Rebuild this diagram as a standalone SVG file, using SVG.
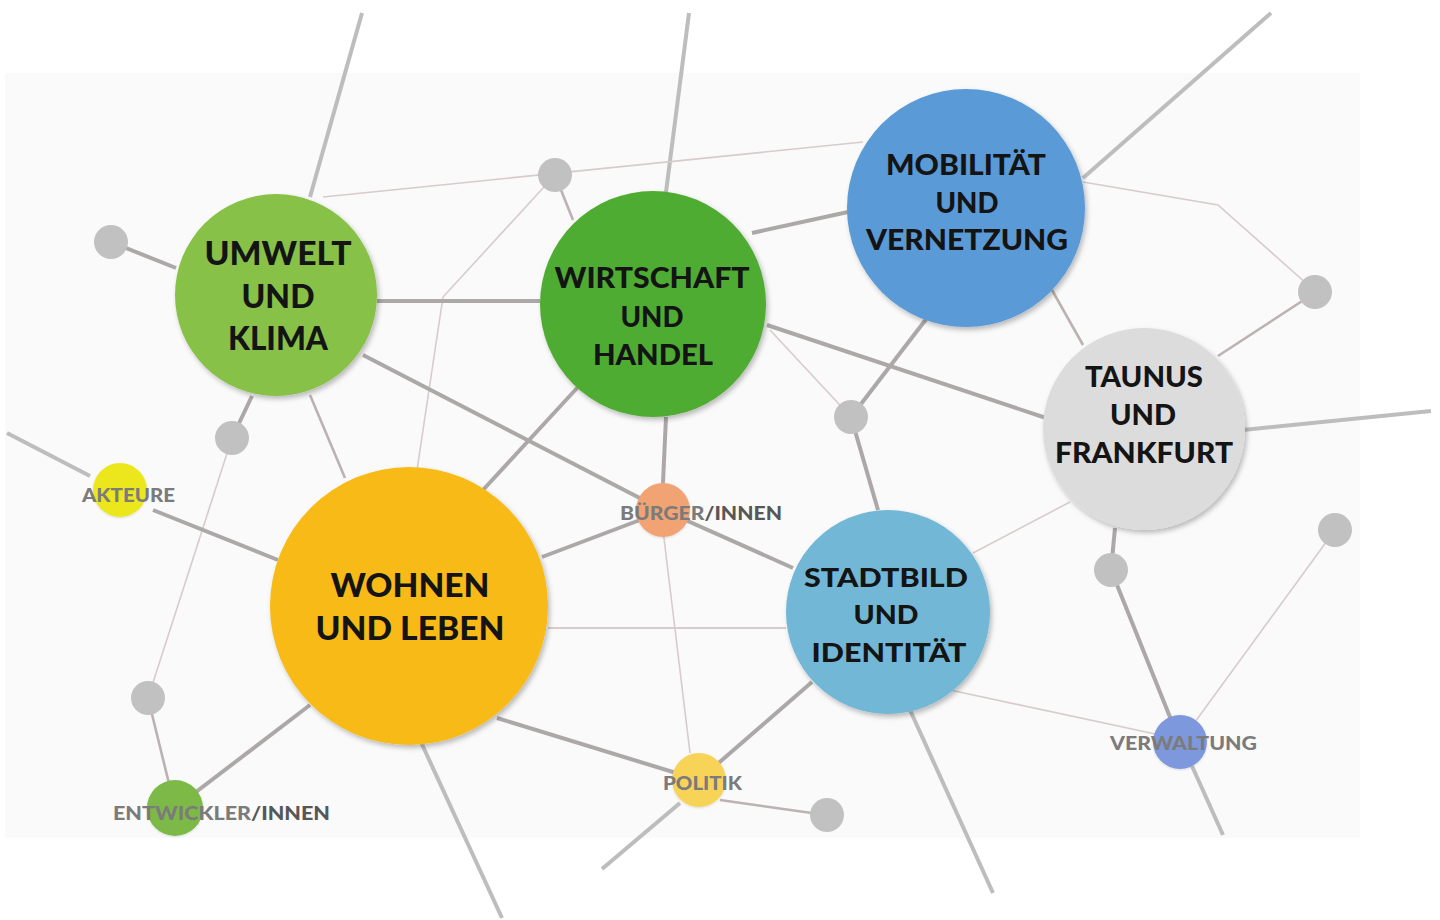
<svg xmlns="http://www.w3.org/2000/svg" width="1440" height="920" viewBox="0 0 1440 920">
<defs>
<filter id="sh" x="-20%" y="-20%" width="140%" height="140%">
<feDropShadow dx="2" dy="3" stdDeviation="2.5" flood-color="#000" flood-opacity="0.26"/>
</filter>
<filter id="shs" x="-30%" y="-30%" width="160%" height="160%">
<feDropShadow dx="0" dy="1" stdDeviation="1" flood-color="#000" flood-opacity="0.12"/>
</filter>
</defs>
<style>
.ext{stroke:#bdbdbd;stroke-width:4;fill:none;stroke-linecap:butt}
.thick{stroke:#aca8a8;stroke-width:4;fill:none}
.med{stroke:#bcb2b2;stroke-width:2.6;fill:none}
.thin{stroke:#d8cbcb;stroke-width:1.6;fill:none}
.dot{fill:#c2c1c1}
.big{font-family:Lato,"Liberation Sans",sans-serif;font-weight:900;fill:#141414;text-anchor:middle}
.sm{font-family:Lato,"Liberation Sans",sans-serif;font-weight:900;font-size:19px;fill:#7b7b7b}
.dk{fill:#575757}
</style>
<rect x="0" y="0" width="1440" height="920" fill="#ffffff"/>
<rect x="5" y="73" width="1355" height="765" fill="#fafafa"/>

<g id="connectors">
<path class="ext" d="M362,13 L310,197"/>
<path class="ext" d="M689,13 L666,192"/>
<path class="ext" d="M1271,13 L1083,178"/>
<path class="ext" d="M1243,430 L1431,411"/>
<path class="ext" d="M7,433 L90,476"/>
<path class="ext" d="M420,740 L502,918"/>
<path class="ext" d="M680,803 L602,869"/>
<path class="ext" d="M910,710 L993,893"/>
<path class="ext" d="M1192,766 L1223,835"/>

<path class="thin" d="M323,197 L863,142"/>
<path class="thin" d="M555,175 L443,297 L417,470"/>
<path class="thin" d="M232,438 L148,698"/>
<path class="thin" d="M770,330 L851,417"/>
<path class="thin" d="M1083,182 L1218,205 L1316,292"/>
<path class="thin" d="M663,530 L690,753"/>
<path class="thin" d="M950,690 L1160,735"/>
<path class="thin" d="M1070,502 L973,553"/>
<path class="thin" d="M1195,722 L1335,530"/>
<path class="thin" style="stroke-width:2.2" d="M548,628 L786,628"/>

<path class="med" d="M310,395 L345,478"/>
<path class="med" d="M555,175 L573,220"/>
<path class="med" d="M1052,290 L1083,345"/>
<path class="med" d="M1316,292 L1218,356"/>
<path class="med" d="M148,698 L175,808"/>
<path class="med" d="M720,800 L826,815"/>

<path class="thick" d="M111,242 L176,268"/>
<path class="thick" d="M377,301 L540,301"/>
<path class="thick" d="M363,355 L663,510"/>
<path class="thick" d="M252,396 L232,438"/>
<path class="thick" d="M153,510 L278,560"/>
<path class="thick" d="M175,808 L310,705"/>
<path class="thick" d="M752,233 L848,212"/>
<path class="thick" d="M767,325 L1046,418"/>
<path class="thick" d="M666,417 L663,483"/>
<path class="thick" d="M578,387 L483,490"/>
<path class="thick" d="M927,318 L851,417"/>
<path class="thick" d="M851,417 L878,510"/>
<path class="thick" d="M640,520 L542,557"/>
<path class="thick" d="M663,510 L793,568"/>
<path class="thick" d="M497,718 L699,780"/>
<path class="thick" d="M699,780 L812,682"/>
<path class="thick" d="M1115,528 L1111,570"/>
<path class="thick" d="M1111,570 L1180,742"/>
</g>

<g id="dots">
<circle class="dot" cx="111" cy="242" r="17"/>
<circle class="dot" cx="232" cy="438" r="17"/>
<circle class="dot" cx="555" cy="175" r="17"/>
<circle class="dot" cx="851" cy="417" r="17"/>
<circle class="dot" cx="1315" cy="292" r="17"/>
<circle class="dot" cx="148" cy="698" r="17"/>
<circle class="dot" cx="827" cy="815" r="17"/>
<circle class="dot" cx="1111" cy="570" r="17"/>
<circle class="dot" cx="1335" cy="530" r="17"/>
</g>

<g id="umwelt">
<circle cx="276" cy="295" r="101" fill="#88c147" filter="url(#sh)"/>
<text class="big" font-size="32"><tspan x="278" y="265" textLength="147" lengthAdjust="spacingAndGlyphs">UMWELT</tspan><tspan x="278" y="308" textLength="73" lengthAdjust="spacingAndGlyphs">UND</tspan><tspan x="278" y="350" textLength="100" lengthAdjust="spacingAndGlyphs">KLIMA</tspan></text>
</g>

<g id="wirtschaft">
<circle cx="653" cy="304" r="113" fill="#4fac31" filter="url(#sh)"/>
<text class="big" font-size="28"><tspan x="652" y="288" textLength="195" lengthAdjust="spacingAndGlyphs">WIRTSCHAFT</tspan><tspan x="652" y="327" textLength="63" lengthAdjust="spacingAndGlyphs">UND</tspan><tspan x="653" y="365" textLength="120" lengthAdjust="spacingAndGlyphs">HANDEL</tspan></text>
</g>

<g id="mobilitaet">
<circle cx="966" cy="208" r="119" fill="#5a9ad6" filter="url(#sh)"/>
<text class="big" font-size="28"><tspan x="966" y="175" textLength="160" lengthAdjust="spacingAndGlyphs">MOBILITÄT</tspan><tspan x="967" y="213" textLength="63" lengthAdjust="spacingAndGlyphs">UND</tspan><tspan x="967" y="250" textLength="202" lengthAdjust="spacingAndGlyphs">VERNETZUNG</tspan></text>
</g>

<g id="taunus">
<circle cx="1144" cy="429" r="101" fill="#dcdcdc" filter="url(#sh)"/>
<text class="big" font-size="28"><tspan x="1144" y="387" textLength="118" lengthAdjust="spacingAndGlyphs">TAUNUS</tspan><tspan x="1143" y="425" textLength="66" lengthAdjust="spacingAndGlyphs">UND</tspan><tspan x="1144" y="463" textLength="178" lengthAdjust="spacingAndGlyphs">FRANKFURT</tspan></text>
</g>

<g id="wohnen">
<circle cx="409" cy="606" r="139" fill="#f8ba15" filter="url(#sh)"/>
<text class="big" font-size="32"><tspan x="410" y="597" textLength="159" lengthAdjust="spacingAndGlyphs">WOHNEN</tspan><tspan x="410" y="640" textLength="189" lengthAdjust="spacingAndGlyphs">UND LEBEN</tspan></text>
</g>

<g id="stadtbild">
<circle cx="888" cy="612" r="102" fill="#72b8d6" filter="url(#sh)"/>
<text class="big" font-size="27"><tspan x="886" y="587" textLength="164" lengthAdjust="spacingAndGlyphs">STADTBILD</tspan><tspan x="886" y="624" textLength="65" lengthAdjust="spacingAndGlyphs">UND</tspan><tspan x="889" y="662" textLength="155" lengthAdjust="spacingAndGlyphs">IDENTITÄT</tspan></text>
</g>

<g id="akteure">
<circle cx="120" cy="490" r="27" fill="#ece71f" filter="url(#shs)"/>
<text class="sm" x="82" y="502" textLength="93" lengthAdjust="spacingAndGlyphs">AKTEURE</text>
</g>

<g id="entwickler">
<circle cx="175" cy="808" r="28" fill="#7bb946" filter="url(#shs)"/>
<text class="sm" x="113" y="820" textLength="217" lengthAdjust="spacingAndGlyphs">ENTWICKLER<tspan class="dk">/INNEN</tspan></text>
</g>

<g id="buerger">
<circle cx="663" cy="510" r="27" fill="#f2a373" filter="url(#shs)"/>
<text class="sm" x="620" y="520" textLength="162" lengthAdjust="spacingAndGlyphs">BÜRGER<tspan class="dk">/INNEN</tspan></text>
</g>

<g id="politik">
<circle cx="699" cy="780" r="27" fill="#f7d358" filter="url(#shs)"/>
<text class="sm" x="663" y="790" textLength="79" lengthAdjust="spacingAndGlyphs">POLITIK</text>
</g>

<g id="verwaltung">
<circle cx="1180" cy="742" r="27" fill="#7d98dd" filter="url(#shs)"/>
<text class="sm" x="1110" y="750" textLength="147" lengthAdjust="spacingAndGlyphs">VERWALTUNG</text>
</g>
</svg>
